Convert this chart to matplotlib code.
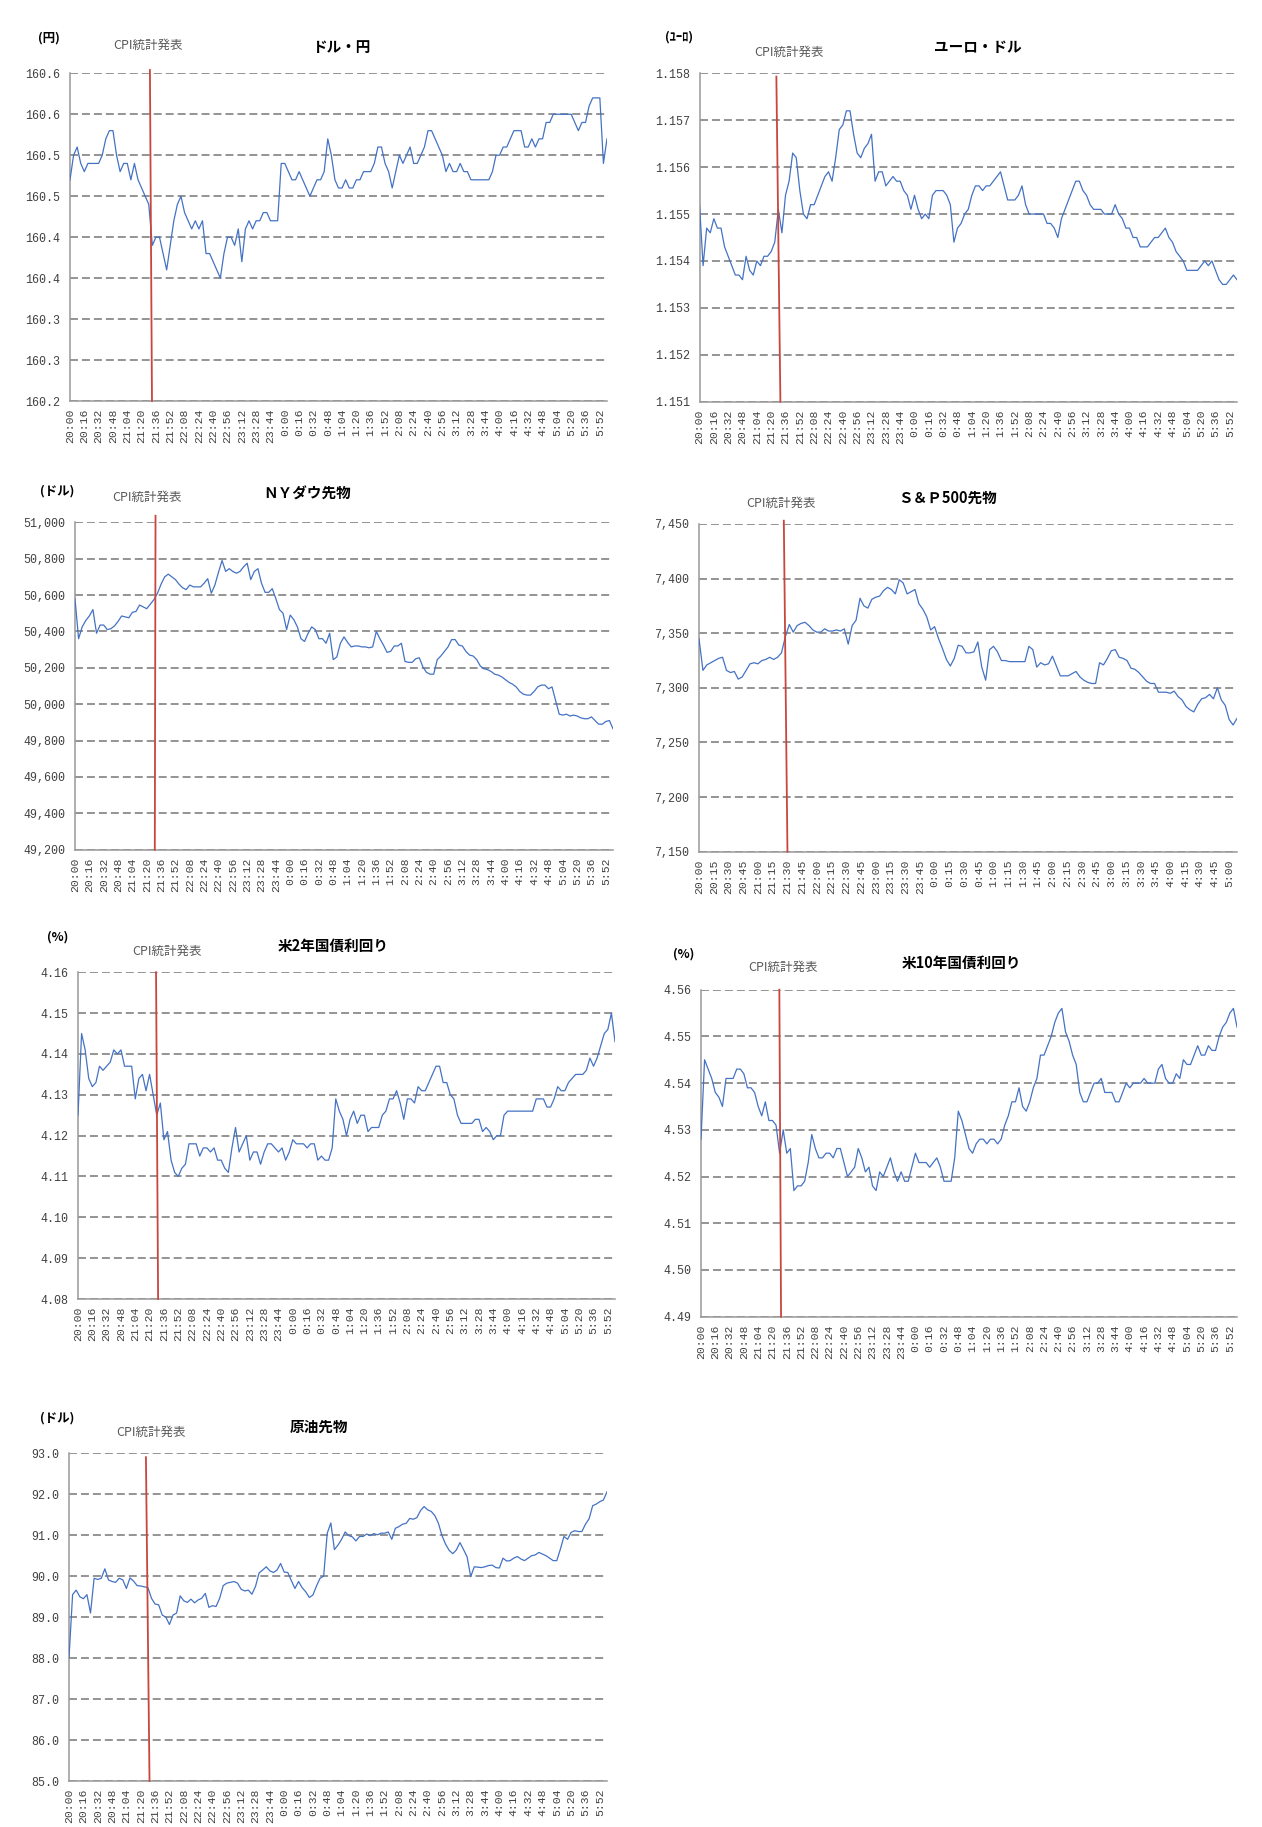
import numpy as np
import matplotlib.pyplot as plt

W, H = 1262, 1827
STEP = 4  # minutes between samples, starting 20:00

plt.rcParams['font.family'] = ['Noto Sans CJK JP', 'DejaVu Sans']

# ---- series (one value every 4 minutes from 20:00) ----
usdjpy = [160.47, 160.50, 160.51, 160.49, 160.48, 160.49, 160.49, 160.49, 160.49, 160.50,
          160.52, 160.53, 160.53, 160.50, 160.48, 160.49, 160.49, 160.47, 160.49, 160.47,
          160.46, 160.45, 160.44, 160.39, 160.40, 160.40, 160.38, 160.36, 160.39, 160.42,
          160.44, 160.45, 160.43, 160.42, 160.41, 160.42, 160.41, 160.42, 160.38, 160.38,
          160.37, 160.36, 160.35, 160.38, 160.40, 160.40, 160.39, 160.41, 160.37, 160.41,
          160.42, 160.41, 160.42, 160.42, 160.43, 160.43, 160.42, 160.42, 160.42, 160.49,
          160.49, 160.48, 160.47, 160.47, 160.48, 160.47, 160.46, 160.45, 160.46, 160.47,
          160.47, 160.48, 160.52, 160.50, 160.47, 160.46, 160.46, 160.47, 160.46, 160.46,
          160.47, 160.47, 160.48, 160.48, 160.48, 160.49, 160.51, 160.51, 160.49, 160.48,
          160.46, 160.48, 160.50, 160.49, 160.50, 160.51, 160.49, 160.49, 160.50, 160.51,
          160.53, 160.53, 160.52, 160.51, 160.50, 160.48, 160.49, 160.48, 160.48, 160.49,
          160.48, 160.48, 160.47, 160.47, 160.47, 160.47, 160.47, 160.47, 160.48, 160.50,
          160.50, 160.51, 160.51, 160.52, 160.53, 160.53, 160.53, 160.51, 160.51, 160.52,
          160.51, 160.52, 160.52, 160.54, 160.54, 160.55, 160.55, 160.55, 160.55, 160.55,
          160.55, 160.54, 160.53, 160.54, 160.54, 160.56, 160.57, 160.57, 160.57, 160.49, 160.52]

eurusd = [1.1552, 1.1539, 1.1547, 1.1546, 1.1549, 1.1547, 1.1547, 1.1543, 1.1541, 1.1539,
          1.1537, 1.1537, 1.1536, 1.1541, 1.1538, 1.1537, 1.1540, 1.1539, 1.1541, 1.1541,
          1.1542, 1.1544, 1.1551, 1.1546, 1.1554, 1.1557, 1.1563, 1.1562, 1.1555, 1.1550,
          1.1549, 1.1552, 1.1552, 1.1554, 1.1556, 1.1558, 1.1559, 1.1557, 1.1562, 1.1568,
          1.1569, 1.1572, 1.1572, 1.1567, 1.1563, 1.1562, 1.1564, 1.1565, 1.1567, 1.1557,
          1.1559, 1.1559, 1.1556, 1.1557, 1.1558, 1.1557, 1.1557, 1.1555, 1.1554, 1.1551,
          1.1554, 1.1551, 1.1549, 1.1550, 1.1549, 1.1554, 1.1555, 1.1555, 1.1555, 1.1554,
          1.1552, 1.1544, 1.1547, 1.1548, 1.1550, 1.1551, 1.1554, 1.1556, 1.1556, 1.1555,
          1.1556, 1.1556, 1.1557, 1.1558, 1.1559, 1.1556, 1.1553, 1.1553, 1.1553, 1.1554,
          1.1556, 1.1552, 1.1550, 1.1550, 1.1550, 1.1550, 1.1550, 1.1548, 1.1548, 1.1547,
          1.1545, 1.1549, 1.1551, 1.1553, 1.1555, 1.1557, 1.1557, 1.1555, 1.1554, 1.1552,
          1.1551, 1.1551, 1.1551, 1.1550, 1.1550, 1.1550, 1.1552, 1.1550, 1.1549, 1.1547,
          1.1547, 1.1545, 1.1545, 1.1543, 1.1543, 1.1543, 1.1544, 1.1545, 1.1545, 1.1546,
          1.1547, 1.1545, 1.1544, 1.1542, 1.1541, 1.1540, 1.1538, 1.1538, 1.1538, 1.1538,
          1.1539, 1.1540, 1.1539, 1.1540, 1.1538, 1.1536, 1.1535, 1.1535, 1.1536, 1.1537, 1.1536]

dow = [50580, 50360, 50425, 50460, 50485, 50520, 50390, 50435, 50435, 50410,
       50415, 50430, 50455, 50485, 50480, 50475, 50505, 50510, 50545, 50535,
       50525, 50550, 50575, 50610, 50660, 50700, 50715, 50700, 50685, 50660,
       50640, 50630, 50655, 50645, 50645, 50645, 50665, 50690, 50610, 50655,
       50725, 50790, 50730, 50745, 50730, 50720, 50730, 50755, 50775, 50685,
       50730, 50745, 50665, 50615, 50615, 50635, 50580, 50520, 50500, 50410,
       50490, 50465, 50425, 50360, 50345, 50390, 50425, 50410, 50360, 50360,
       50335, 50390, 50245, 50260, 50335, 50370, 50340, 50315, 50320, 50320,
       50315, 50315, 50310, 50315, 50400, 50360, 50325, 50285, 50290, 50320,
       50320, 50335, 50235, 50230, 50230, 50250, 50255, 50205, 50175, 50165,
       50165, 50245, 50265, 50290, 50315, 50355, 50355, 50325, 50320, 50290,
       50270, 50265, 50245, 50210, 50195, 50190, 50180, 50165, 50160, 50150,
       50135, 50120, 50110, 50095, 50070, 50055, 50050, 50050, 50070, 50095,
       50105, 50105, 50085, 50095, 50020, 49945, 49940, 49945, 49935, 49940,
       49935, 49925, 49920, 49920, 49930, 49910, 49890, 49890, 49905, 49910, 49865]

spx = [7345, 7316, 7321, 7323, 7325, 7327, 7328, 7316, 7314, 7315,
       7308, 7310, 7316, 7322, 7323, 7322, 7325, 7326, 7328, 7326,
       7328, 7332, 7347, 7358, 7351, 7357, 7359, 7360, 7357, 7353,
       7351, 7351, 7354, 7352, 7352, 7353, 7352, 7354, 7340, 7357,
       7362, 7382, 7375, 7373, 7381, 7383, 7384, 7389, 7392, 7390,
       7386, 7399, 7396, 7386, 7388, 7390, 7377, 7372, 7365, 7353,
       7356, 7345, 7336, 7326, 7320, 7327, 7339, 7338, 7332, 7332,
       7333, 7342, 7319, 7307, 7335, 7338, 7333, 7325, 7325, 7324,
       7324, 7324, 7324, 7324, 7338, 7335, 7319, 7323, 7321, 7322,
       7329, 7320, 7311, 7311, 7311, 7313, 7315, 7310, 7307, 7305,
       7304, 7304, 7323, 7321, 7327, 7334, 7335, 7328, 7327, 7325,
       7318, 7317, 7314, 7310, 7306, 7304, 7304, 7296, 7296, 7296,
       7295, 7297, 7292, 7289, 7283, 7280, 7278, 7285, 7290, 7291,
       7294, 7290, 7300, 7289, 7284, 7271, 7266, 7272]

us2y = [4.125, 4.145, 4.141, 4.134, 4.132, 4.133, 4.137, 4.136, 4.137, 4.138,
        4.141, 4.140, 4.141, 4.137, 4.137, 4.137, 4.129, 4.134, 4.135, 4.131,
        4.135, 4.130, 4.125, 4.128, 4.119, 4.121, 4.114, 4.111, 4.110, 4.112,
        4.113, 4.118, 4.118, 4.118, 4.115, 4.117, 4.117, 4.116, 4.117, 4.114,
        4.114, 4.112, 4.111, 4.117, 4.122, 4.116, 4.118, 4.120, 4.114, 4.116,
        4.116, 4.113, 4.116, 4.118, 4.118, 4.117, 4.116, 4.117, 4.114, 4.116,
        4.119, 4.118, 4.118, 4.118, 4.117, 4.118, 4.118, 4.114, 4.115, 4.114,
        4.114, 4.117, 4.129, 4.126, 4.124, 4.120, 4.124, 4.126, 4.123, 4.125,
        4.125, 4.121, 4.122, 4.122, 4.122, 4.125, 4.126, 4.129, 4.129, 4.131,
        4.128, 4.124, 4.129, 4.129, 4.128, 4.132, 4.131, 4.131, 4.133, 4.135,
        4.137, 4.137, 4.133, 4.133, 4.130, 4.129, 4.125, 4.123, 4.123, 4.123,
        4.123, 4.124, 4.124, 4.121, 4.122, 4.121, 4.119, 4.120, 4.120, 4.125,
        4.126, 4.126, 4.126, 4.126, 4.126, 4.126, 4.126, 4.126, 4.129, 4.129,
        4.129, 4.127, 4.127, 4.129, 4.132, 4.131, 4.131, 4.133, 4.134, 4.135,
        4.135, 4.135, 4.136, 4.139, 4.137, 4.139, 4.142, 4.145, 4.146, 4.150, 4.143]

us10y = [4.528, 4.545, 4.543, 4.541, 4.538, 4.537, 4.535, 4.541, 4.541, 4.541,
         4.543, 4.543, 4.542, 4.539, 4.539, 4.538, 4.535, 4.533, 4.536, 4.532,
         4.532, 4.531, 4.525, 4.530, 4.525, 4.526, 4.517, 4.518, 4.518, 4.519,
         4.523, 4.529, 4.526, 4.524, 4.524, 4.525, 4.525, 4.524, 4.526, 4.526,
         4.523, 4.520, 4.521, 4.522, 4.526, 4.524, 4.521, 4.522, 4.518, 4.517,
         4.521, 4.520, 4.522, 4.524, 4.521, 4.519, 4.521, 4.519, 4.519, 4.522,
         4.525, 4.523, 4.523, 4.523, 4.522, 4.523, 4.524, 4.522, 4.519, 4.519,
         4.519, 4.524, 4.534, 4.532, 4.529, 4.526, 4.525, 4.527, 4.528, 4.528,
         4.527, 4.528, 4.528, 4.527, 4.528, 4.531, 4.533, 4.536, 4.536, 4.539,
         4.535, 4.534, 4.536, 4.539, 4.541, 4.546, 4.546, 4.548, 4.550, 4.553,
         4.555, 4.556, 4.551, 4.549, 4.546, 4.544, 4.538, 4.536, 4.536, 4.538,
         4.540, 4.540, 4.541, 4.538, 4.538, 4.538, 4.536, 4.536, 4.538, 4.540,
         4.539, 4.540, 4.540, 4.540, 4.541, 4.540, 4.540, 4.540, 4.543, 4.544,
         4.541, 4.540, 4.540, 4.542, 4.541, 4.545, 4.544, 4.544, 4.546, 4.548,
         4.546, 4.546, 4.548, 4.547, 4.547, 4.550, 4.552, 4.553, 4.555, 4.556, 4.552]

wti = [88.00, 89.55, 89.66, 89.50, 89.45, 89.55, 89.10, 89.95, 89.92, 89.95,
       90.18, 89.91, 89.87, 89.85, 89.95, 89.91, 89.70, 89.96, 89.88, 89.77,
       89.76, 89.74, 89.72, 89.46, 89.32, 89.30, 89.05, 89.00, 88.82, 89.05,
       89.10, 89.52, 89.40, 89.36, 89.44, 89.35, 89.42, 89.46, 89.58, 89.24,
       89.28, 89.26, 89.46, 89.77, 89.83, 89.85, 89.87, 89.83, 89.68, 89.64,
       89.66, 89.56, 89.75, 90.08, 90.15, 90.23, 90.13, 90.09, 90.15, 90.31,
       90.10, 90.09, 89.89, 89.70, 89.87, 89.72, 89.62, 89.48, 89.54, 89.76,
       89.95, 90.00, 91.05, 91.30, 90.65, 90.76, 90.90, 91.08, 90.99, 90.96,
       90.86, 90.97, 90.97, 91.03, 90.99, 91.04, 91.01, 91.05, 91.05, 91.08,
       90.90, 91.17, 91.21, 91.27, 91.29, 91.41, 91.39, 91.43, 91.60, 91.70,
       91.62, 91.58, 91.48, 91.29, 90.99, 90.78, 90.63, 90.55, 90.64, 90.82,
       90.65, 90.47, 89.99, 90.23, 90.22, 90.21, 90.23, 90.26, 90.27, 90.21,
       90.20, 90.44, 90.37, 90.38, 90.44, 90.48, 90.42, 90.38, 90.44, 90.50,
       90.52, 90.58, 90.54, 90.50, 90.44, 90.38, 90.38, 90.66, 90.97, 90.90,
       91.07, 91.11, 91.09, 91.09, 91.27, 91.40, 91.72, 91.76, 91.82, 91.86, 92.06]

# ---- y axis ticks and their labels ----
usdjpy_ticks = [160.20, 160.25, 160.30, 160.35, 160.40, 160.45, 160.50, 160.55, 160.60]
usdjpy_labels = ["160.2", "160.3", "160.3", "160.4", "160.4", "160.5", "160.5", "160.6", "160.6"]
eurusd_ticks = [1.151, 1.152, 1.153, 1.154, 1.155, 1.156, 1.157, 1.158]
eurusd_labels = ["1.151", "1.152", "1.153", "1.154", "1.155", "1.156", "1.157", "1.158"]
dow_ticks = [49200, 49400, 49600, 49800, 50000, 50200, 50400, 50600, 50800, 51000]
dow_labels = ["49,200", "49,400", "49,600", "49,800", "50,000", "50,200", "50,400",
              "50,600", "50,800", "51,000"]
spx_ticks = [7150, 7200, 7250, 7300, 7350, 7400, 7450]
spx_labels = ["7,150", "7,200", "7,250", "7,300", "7,350", "7,400", "7,450"]
us2y_ticks = [4.08, 4.09, 4.10, 4.11, 4.12, 4.13, 4.14, 4.15, 4.16]
us2y_labels = ["4.08", "4.09", "4.10", "4.11", "4.12", "4.13", "4.14", "4.15", "4.16"]
us10y_ticks = [4.49, 4.50, 4.51, 4.52, 4.53, 4.54, 4.55, 4.56]
us10y_labels = ["4.49", "4.50", "4.51", "4.52", "4.53", "4.54", "4.55", "4.56"]
wti_ticks = [85, 86, 87, 88, 89, 90, 91, 92, 93]
wti_labels = ["85.0", "86.0", "87.0", "88.0", "89.0", "90.0", "91.0", "92.0", "93.0"]

BLUE = '#4472C4'
RED = '#C9463D'
GRID = '#949494'
SPINE = '#999999'
TXT = '#404040'
TICKFONT = 'Liberation Mono'


def clock(minute):
    t = 20 * 60 + minute
    return f"{(t // 60) % 24}:{t % 60:02d}"


# box = (left, top, right, bottom) in pixels; cpi = (x at top, x at bottom, top in axes frac)
panels = [
    dict(vals=usdjpy, ticks=usdjpy_ticks, labels=usdjpy_labels, box=(70, 73.3, 607, 401.0),
         xmax=600, xstep=16, title="ドル・円", tpos=(341, 47), unit="(円)", upos=(49, 38),
         cpos=(148, 45), cpi=(89.3, 91.6, 1.01)),
    dict(vals=eurusd, ticks=eurusd_ticks, labels=eurusd_labels, box=(699.5, 73.3, 1237, 401.7),
         xmax=600, xstep=16, title="ユーロ・ドル", tpos=(978, 47), unit="(ﾕｰﾛ)", upos=(679, 37),
         cpos=(789, 52), cpi=(85.8, 90.3, 0.99)),
    dict(vals=dow, ticks=dow_ticks, labels=dow_labels, box=(75, 522.3, 613, 849.7),
         xmax=600, xstep=16, title="ＮＹダウ先物", tpos=(307, 494), unit="(ドル)", upos=(57, 491),
         cpos=(147, 497), cpi=(89.8, 89.0, 1.02)),
    dict(vals=spx, ticks=spx_ticks, labels=spx_labels, box=(699, 524.0, 1237, 851.7),
         xmax=548, xstep=15, title="Ｓ＆Ｐ500先物", tpos=(948, 498), unit=None, upos=None,
         cpos=(781, 503), cpi=(86.4, 90.1, 1.01)),
    dict(vals=us2y, ticks=us2y_ticks, labels=us2y_labels, box=(78, 972.3, 615, 1299.0),
         xmax=600, xstep=16, title="米2年国債利回り", tpos=(333, 946), unit="(%)", upos=(58, 937),
         cpos=(167, 951), cpi=(87.2, 89.5, 1.0)),
    dict(vals=us10y, ticks=us10y_ticks, labels=us10y_labels, box=(701, 989.7, 1237, 1316.7),
         xmax=600, xstep=16, title="米10年国債利回り", tpos=(961, 963), unit="(%)", upos=(684, 954),
         cpos=(783, 967), cpi=(87.7, 89.6, 1.0)),
    dict(vals=wti, ticks=wti_ticks, labels=wti_labels, box=(69, 1453.3, 607, 1781.0),
         xmax=600, xstep=16, title="原油先物", tpos=(319, 1427), unit="(ドル)", upos=(57, 1418),
         cpos=(151, 1432), cpi=(85.8, 89.8, 0.988)),
]

fig = plt.figure(figsize=(W / 100, H / 100), dpi=100)
fig.patch.set_facecolor('white')

for p in panels:
    L, T, R, B = p['box']
    ax = fig.add_axes([L / W, 1 - B / H, (R - L) / W, (B - T) / H])
    x = np.arange(len(p['vals'])) * STEP
    ax.plot(x, p['vals'], color=BLUE, lw=0.9, zorder=3)

    ax.set_xlim(0, p['xmax'])
    ax.set_ylim(p['ticks'][0], p['ticks'][-1])
    ax.set_yticks(p['ticks'])
    ax.set_yticklabels(p['labels'], family=TICKFONT, fontsize=8.4, color=TXT)
    xt = list(range(0, p['xmax'] - 5, p['xstep']))
    ax.set_xticks(xt)
    ax.set_xticklabels([clock(m) for m in xt], rotation=90, family=TICKFONT,
                       fontsize=8.2, color=TXT)
    ax.tick_params(axis='y', length=0, pad=7)
    ax.tick_params(axis='x', length=0, pad=5.5)

    ax.yaxis.grid(True, linestyle=(0, (4.1, 2.05)), color=GRID, lw=1.4)
    ax.set_axisbelow(True)
    for s in ('top', 'right'):
        ax.spines[s].set_visible(False)
    for s in ('left', 'bottom'):
        ax.spines[s].set_color(SPINE)
        ax.spines[s].set_linewidth(1.1)

    # CPI release marker
    ct, cb, cy = p['cpi']
    ax.plot([ct, cb], [cy, 0], transform=ax.get_xaxis_transform(), color=RED, lw=1.3,
            clip_on=False, zorder=4)

    tx, ty = p['tpos']
    fig.text(tx / W, 1 - ty / H, p['title'], ha='center', va='center', fontsize=10.5,
             fontweight='bold', color='black')
    cx, cy2 = p['cpos']
    fig.text(cx / W, 1 - cy2 / H, "CPI統計発表", ha='center', va='center', fontsize=9,
             color='#595959')
    if p['unit']:
        ux, uy = p['upos']
        fig.text(ux / W, 1 - uy / H, p['unit'], ha='center', va='center', fontsize=9,
                 fontweight='bold', color='black')

fig.savefig('out.png', dpi=100, facecolor='white')
